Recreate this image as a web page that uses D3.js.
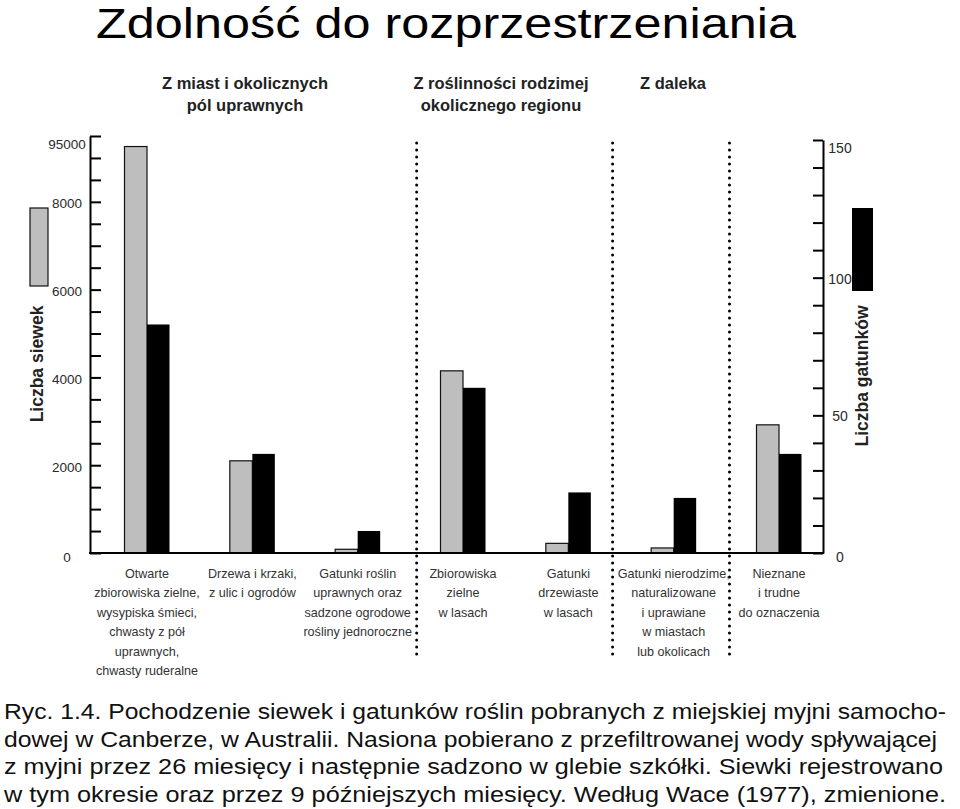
<!DOCTYPE html>
<html lang="pl">
<head>
<meta charset="utf-8">
<title>Zdolność do rozprzestrzeniania</title>
<script src="https://cdn.jsdelivr.net/npm/d3@7"></script>
<style>
    html, body { margin: 0; padding: 0; background: #fff; }
    svg { display: block; font-family: "Liberation Sans", Arial, sans-serif; }
    .axis path, .axis line { stroke: #000; stroke-width: 2; }
    .tickLabel { font-size: 13.5px; fill: #2a2a2a; text-anchor: middle; }
    .catLabel { font-size: 12.6px; fill: #333; text-anchor: middle; }
    .header { font-size: 16.5px; font-weight: bold; fill: #222; text-anchor: middle; }
    .axisTitle { font-size: 17.5px; font-weight: bold; fill: #222; text-anchor: middle; }
    .caption { font-size: 22px; fill: #111; }
</style>
</head>
<body>
<div id="chart1"></div>
<script>
'use strict';

// Data
const categories = [
    ['Otwarte', 'zbiorowiska zielne,', 'wysypiska śmieci,', 'chwasty z pół', 'uprawnych,', 'chwasty ruderalne'],
    ['Drzewa i krzaki,', 'z ulic i ogrodów'],
    ['Gatunki roślin', 'uprawnych oraz', 'sadzone ogrodowe', 'rośliny jednoroczne'],
    ['Zbiorowiska', 'zielne', 'w lasach'],
    ['Gatunki', 'drzewiaste', 'w lasach'],
    ['Gatunki nierodzime,', 'naturalizowane', 'i uprawiane', 'w miastach', 'lub okolicach'],
    ['Nieznane', 'i trudne', 'do oznaczenia']
];
const seedlings = [9260, 2100, 85, 4150, 220, 115, 2920];
const species = [83, 36, 8, 60, 22, 20, 36];

const leftTicks = [0, 2000, 4000, 6000, 8000, 9500];
const leftTickLabels = ['0', '2000', '4000', '6000', '8000', '95000'];
const rightTicks = [0, 50, 100, 150];
const rightTickLabels = ['0', '50', '100', '150'];

const headers = [
    ['Z miast i okolicznych', 'pól uprawnych'],
    ['Z roślinności rodzimej', 'okolicznego regionu'],
    ['Z daleka']
];
const titleText = 'Zdolność do rozprzestrzeniania';
const captionLines = [
    'Ryc. 1.4. Pochodzenie siewek i gatunków roślin pobranych z miejskiej myjni samocho-',
    'dowej w Canberze, w Australii. Nasiona pobierano z przefiltrowanej wody spływającej',
    'z myjni przez 26 miesięcy i następnie sadzono w glebie szkółki. Siewki rejestrowano',
    'w tym okresie oraz przez 9 późniejszych miesięcy. Według Wace (1977), zmienione.'
];

/* `````````````````````````````````\```````````````````````\
    Class: SeedChart                |                       |
 ``````````````````````````````````/``````````````````````*/
class SeedChart {

    constructor(_parent) {
        this.parent = _parent;
        this.initVis();
    }

    /*
    initVis
    */
    initVis() {
        const vis = this;

        // Config svg
        vis.w = 960;
        vis.h = 809;
        vis.svg = d3.select(`#${vis.parent}`)
            .append('svg')
            .attr('width', vis.w)
            .attr('height', vis.h);

        // Plot frame
        vis.left = 90;
        vis.right = 823;
        vis.base = 553;
        vis.top = 136;

        // Scales
        vis.yLeft = d3.scaleLinear().domain([0, 9500]).range([vis.base, vis.top]);
        vis.yRight = d3.scaleLinear().domain([0, 150]).range([vis.base, 140]);
        vis.xGroup = d3.scalePoint().domain(d3.range(categories.length)).range([147, 779]);
        vis.xSub = d3.scaleBand().domain(['seedlings', 'species']).range([-22.5, 22.5]);
        vis.xIdx = d3.scaleLinear().domain([0, categories.length - 1]).range([147, 779]);

        vis.wrangleData();
    }

    /*
    wrangleData
    */
    wrangleData() {
        const vis = this;
        vis.displayData = categories.map((c, i) => ({
            idx: i,
            lines: c,
            seedlings: seedlings[i],
            species: species[i]
        }));
        vis.updateVis();
    }

    /*
    updateVis
    */
    updateVis() {
        const vis = this;

        // Title
        vis.svg.append('text')
            .attr('x', 96)
            .attr('y', 38)
            .attr('textLength', 700)
            .attr('lengthAdjust', 'spacingAndGlyphs')
            .style('font-size', '42px')
            .style('fill', '#000')
            .text(titleText);

        // Group headers
        const headerX = [245, 501, 673];
        headers.forEach((lines, i) => {
            lines.forEach((l, j) => {
                vis.svg.append('text')
                    .attr('class', 'header')
                    .attr('x', headerX[i])
                    .attr('y', 89 + j * 22)
                    .text(l);
            });
        });

        // Dotted separators
        [2.56, 4.42, 5.53].forEach(p => {
            vis.svg.append('line')
                .attr('x1', vis.xIdx(p))
                .attr('x2', vis.xIdx(p))
                .attr('y1', 143)
                .attr('y2', 656)
                .attr('stroke', '#000')
                .attr('stroke-width', 3)
                .attr('stroke-linecap', 'round')
                .attr('stroke-dasharray', '0 7');
        });

        // Bars
        const groups = vis.svg.append('g').attr('id', 'barsG')
            .selectAll('.group')
            .data(vis.displayData)
            .join('g')
            .attr('class', 'group')
            .attr('transform', d => `translate(${vis.xGroup(d.idx)},0)`);

        groups.append('rect')
            .attr('x', vis.xSub('seedlings'))
            .attr('width', vis.xSub.bandwidth())
            .attr('y', d => vis.yLeft(d.seedlings))
            .attr('height', d => vis.base - vis.yLeft(d.seedlings))
            .attr('fill', '#bebebe')
            .attr('stroke', '#111')
            .attr('stroke-width', 1.2);

        groups.append('rect')
            .attr('x', vis.xSub('species'))
            .attr('width', vis.xSub.bandwidth())
            .attr('y', d => vis.yRight(d.species))
            .attr('height', d => vis.base - vis.yRight(d.species))
            .attr('fill', '#000');

        // Category labels
        groups.each(function (d) {
            const g = d3.select(this);
            d.lines.forEach((l, j) => {
                g.append('text')
                    .attr('class', 'catLabel')
                    .attr('x', 0)
                    .attr('y', 578 + j * 19.4)
                    .text(l);
            });
        });

        // Left axis
        vis.svg.append('g')
            .attr('class', 'axis')
            .attr('transform', `translate(${vis.left},0)`)
            .call(d3.axisLeft(vis.yLeft)
                .tickValues(d3.range(0, 9501, 500))
                .tickSize(-11)
                .tickSizeOuter(0)
                .tickFormat(''));

        // Right axis
        vis.svg.append('g')
            .attr('class', 'axis')
            .attr('transform', `translate(${vis.right},0)`)
            .call(d3.axisRight(vis.yRight)
                .tickValues(d3.range(0, 151, 10))
                .tickSize(-10)
                .tickSizeOuter(0)
                .tickFormat(''));

        // Baseline
        vis.svg.append('line')
            .attr('x1', vis.left - 1)
            .attr('x2', vis.right + 1)
            .attr('y1', vis.base)
            .attr('y2', vis.base)
            .attr('stroke', '#000')
            .attr('stroke-width', 2);

        // Tick labels (nudged like the original)
        const leftNudge = {0: 8.5, 9500: 12.5};
        leftTicks.forEach((t, i) => {
            vis.svg.append('text')
                .attr('class', 'tickLabel')
                .attr('x', 67)
                .attr('y', vis.yLeft(t) + (leftNudge[t] !== undefined ? leftNudge[t] : 6.5))
                .text(leftTickLabels[i]);
        });
        const rightNudge = {0: 8.5, 150: 13};
        rightTicks.forEach((t, i) => {
            vis.svg.append('text')
                .attr('class', 'tickLabel')
                .attr('x', 840)
                .attr('y', vis.yRight(t) + (rightNudge[t] !== undefined ? rightNudge[t] : 6))
                .style('font-size', '14px')
                .text(rightTickLabels[i]);
        });

        // Legend swatches
        vis.svg.append('rect')
            .attr('x', 30).attr('y', 208)
            .attr('width', 18).attr('height', 78)
            .attr('fill', '#bebebe')
            .attr('stroke', '#111')
            .attr('stroke-width', 1.2);
        vis.svg.append('rect')
            .attr('x', 852).attr('y', 208)
            .attr('width', 21).attr('height', 83)
            .attr('fill', '#000');

        // Axis titles
        vis.svg.append('text')
            .attr('class', 'axisTitle')
            .attr('transform', 'translate(37,364) rotate(-90)')
            .attr('dy', '0.35em')
            .text('Liczba siewek');
        vis.svg.append('text')
            .attr('class', 'axisTitle')
            .attr('transform', 'translate(862,376) rotate(-90)')
            .attr('dy', '0.35em')
            .text('Liczba gatunków');

        // Caption
        const capWidths = [942, 933, 939, 942];
        captionLines.forEach((l, i) => {
            vis.svg.append('text')
                .attr('class', 'caption')
                .attr('x', 4)
                .attr('y', 719 + i * 27.5)
                .attr('textLength', capWidths[i])
                .attr('lengthAdjust', 'spacingAndGlyphs')
                .text(l);
        });
    }
}

new SeedChart('chart1');
</script>
</body>
</html>
